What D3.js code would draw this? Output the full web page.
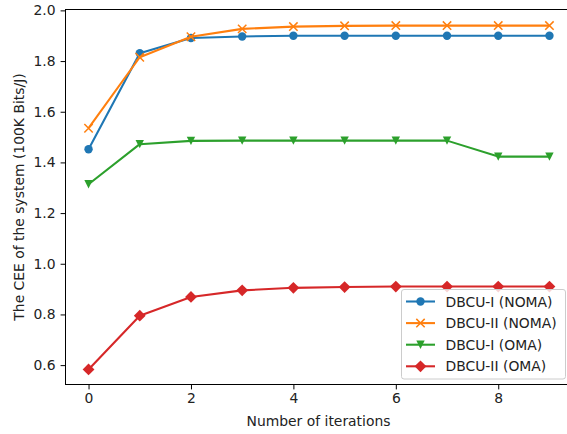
<!DOCTYPE html>
<html><head><meta charset="utf-8">
<script src="https://cdn.jsdelivr.net/npm/d3@7"></script>
<style>body{margin:0;background:#fff}svg{display:block;font-family:"DejaVu Sans",sans-serif}</style>
</head><body><svg id="chart" width="567" height="434"></svg>
<script>
const iterations = [0,1,2,3,4,5,6,7,8,9];
const seriesNames = ["DBCU-I (NOMA)","DBCU-II (NOMA)","DBCU-I (OMA)","DBCU-II (OMA)"];
const dbcu1Noma = [1.452,1.831,1.891,1.897,1.900,1.900,1.900,1.900,1.900,1.900];
const dbcu2Noma = [1.535,1.815,1.896,1.927,1.936,1.939,1.940,1.940,1.940,1.940];
const dbcu1Oma  = [1.314,1.472,1.485,1.486,1.486,1.486,1.486,1.486,1.423,1.423];
const dbcu2Oma  = [0.583,0.795,0.869,0.895,0.905,0.908,0.910,0.910,0.910,0.910];
const xTicks = [0,2,4,6,8];
const yTicks = [0.6,0.8,1.0,1.2,1.4,1.6,1.8,2.0];
const colors = ["#1f77b4","#ff7f0e","#2ca02c","#d62728"];
const markers = ["circle","x","tri","diamond"];
const allSeries = [dbcu1Noma,dbcu2Noma,dbcu1Oma,dbcu2Oma];

const svg = d3.select("#chart");
const L = 65.5, R = 572.5, T = 9.5, B = 384.5;
const x = d3.scaleLinear().domain([-0.45,9.45]).range([L,R]);
const y = d3.scaleLinear().domain([0.5235,2.0035]).range([B,T]);

function drawMarker(g, type, cx, cy, color){
  if(type==="circle"){
    g.append("circle").attr("cx",cx).attr("cy",cy).attr("r",4.2).attr("fill",color);
  } else if(type==="x"){
    const s=4.2;
    g.append("path").attr("d",`M${cx-s},${cy-s}L${cx+s},${cy+s}M${cx-s},${cy+s}L${cx+s},${cy-s}`)
      .attr("stroke",color).attr("stroke-width",1.5).attr("fill","none");
  } else if(type==="tri"){
    const s=4.2;
    g.append("path").attr("d",`M${cx},${cy+s}L${cx-s},${cy-s}L${cx+s},${cy-s}Z`).attr("fill",color);
  } else {
    const s=5.9;
    g.append("path").attr("d",`M${cx},${cy-s}L${cx+s},${cy}L${cx},${cy+s}L${cx-s},${cy}Z`).attr("fill",color);
  }
}

// axes
const xAxis = d3.axisBottom(x).tickValues(xTicks).tickSize(4.9).tickPadding(4).tickFormat(d3.format("d"));
const yAxis = d3.axisLeft(y).tickValues(yTicks).tickSize(4.9).tickPadding(5).tickFormat(d3.format(".1f"));
const gx = svg.append("g").attr("transform",`translate(0,${B})`).call(xAxis);
const gy = svg.append("g").attr("transform",`translate(${L},0)`).call(yAxis);
[gx,gy].forEach(g=>{
  g.select(".domain").remove();
  g.selectAll(".tick line").attr("stroke","#000").attr("stroke-width",1);
  g.selectAll(".tick text").attr("fill","#222").attr("font-size","13.9px").attr("font-family","DejaVu Sans");
});
// frame
svg.append("rect").attr("x",L).attr("y",T).attr("width",R-L).attr("height",B-T)
  .attr("fill","none").attr("stroke","#000").attr("stroke-width",1);

const plot = svg.append("g");
allSeries.forEach((vals,i)=>{
  const line = d3.line().x((d,j)=>x(iterations[j])).y(d=>y(d));
  plot.append("path").datum(vals).attr("d",line).attr("fill","none")
    .attr("stroke",colors[i]).attr("stroke-width",2.08).attr("stroke-linejoin","round");
  vals.forEach((v,j)=>drawMarker(plot,markers[i],x(iterations[j]),y(v),colors[i]));
});

// labels
svg.append("text").attr("x",318.5).attr("y",426).attr("text-anchor","middle")
  .attr("font-size","13.9px").attr("fill","#222").text("Number of iterations");
svg.append("text").attr("transform",`translate(24,${(T+B)/2}) rotate(-90)`).attr("text-anchor","middle")
  .attr("font-size","13.9px").attr("fill","#222").text("The CEE of the system (100K Bits/J)");

// legend
const lg = svg.append("g");
const lx = 401.5, ly = 289.5, lw = 164, lh = 89.5;
lg.append("rect").attr("x",lx).attr("y",ly).attr("width",lw).attr("height",lh).attr("rx",2.5)
  .attr("fill","#fff").attr("fill-opacity",0.8).attr("stroke","#ccc").attr("stroke-width",1);
seriesNames.forEach((name,i)=>{
  const cy = ly + 12 + i*21.6;
  lg.append("line").attr("x1",lx+4.5).attr("x2",lx+33.5).attr("y1",cy).attr("y2",cy)
    .attr("stroke",colors[i]).attr("stroke-width",2.08);
  drawMarker(lg,markers[i],lx+19,cy,colors[i]);
  lg.append("text").attr("x",lx+44).attr("y",cy+5).attr("font-size","13.9px").attr("fill","#222").text(name);
});
</script></body></html>
